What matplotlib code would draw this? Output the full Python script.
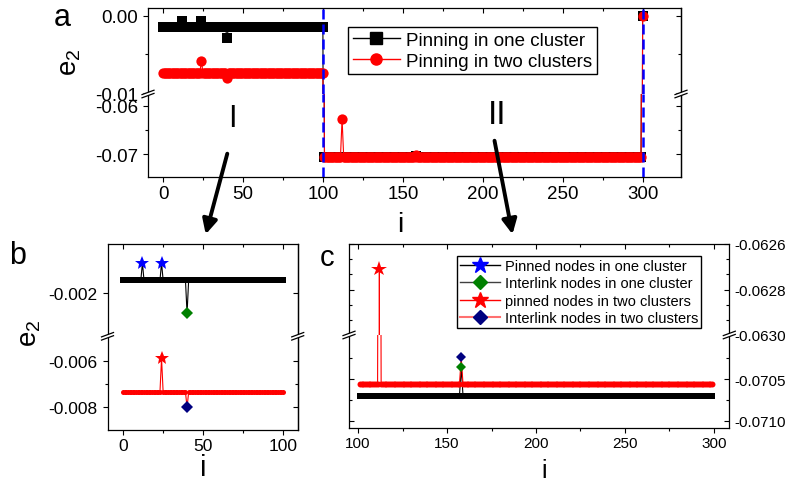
import numpy as np
import matplotlib
matplotlib.use('Agg')
import matplotlib.pyplot as plt
from matplotlib.lines import Line2D
from matplotlib.patches import Polygon
from matplotlib.ticker import FormatStrFormatter, MultipleLocator, FixedLocator, AutoMinorLocator

plt.rcParams['font.family'] = ['Liberation Sans', 'DejaVu Sans']
plt.rcParams['axes.unicode_minus'] = False
plt.rcParams['mathtext.default'] = 'regular'

W, H = 791, 485

# node index and piecewise e2 levels: (first i, last i, e2)
i_nodes = np.arange(0, 301)
one_levels = [(0, 100, -0.00144), (101, 299, -0.0707), (300, 300, 0.0)]
two_levels = [(0, 100, -0.00735), (101, 299, -0.07056), (300, 300, 0.0)]

# special nodes: pinned (stars) and interlink (diamonds)
one_pinned_i = [12, 24]
one_pinned_e2 = [-0.0007, -0.0007]
one_link_i = [40, 158]
one_link_e2 = [-0.00286, -0.07036]
two_pinned_i = [24, 112]
two_pinned_e2 = [-0.0059, -0.06271]
two_link_i = [40, 158]
two_link_e2 = [-0.0080, -0.07024]


def build(levels, idx_lists, val_lists):
    e2 = np.zeros(len(i_nodes))
    for lo, hi, v in levels:
        e2[lo:hi + 1] = v
    for idx, vals in zip(idx_lists, val_lists):
        for k, v in zip(idx, vals):
            e2[k] = v
    return e2


one_cluster = build(one_levels, [one_pinned_i, one_link_i], [one_pinned_e2, one_link_e2])
two_cluster = build(two_levels, [two_pinned_i, two_link_i], [two_pinned_e2, two_link_e2])

fig = plt.figure(figsize=(W / 100, H / 100), dpi=100)


def box(l, t, r, b):
    return [l / W, 1 - b / H, (r - l) / W, (b - t) / H]


def make_pair(l, t, brk, r, b, tsize, left_dir='out'):
    top = fig.add_axes(box(l, t, r, brk))
    bot = fig.add_axes(box(l, brk, r, b))
    top.spines['bottom'].set_visible(False)
    bot.spines['top'].set_visible(False)
    for ax in (top, bot):
        for sp in ax.spines.values():
            sp.set_linewidth(0.9)
        ax.tick_params(which='major', length=3.5, width=0.8, labelsize=tsize)
        ax.tick_params(which='minor', length=2.2, width=0.8)
        ax.tick_params(axis='y', which='both', direction=left_dir)
    top.tick_params(axis='x', which='both', bottom=False, labelbottom=False, top=True, direction='in')
    bot.tick_params(axis='x', which='both', top=False, direction='out', pad=2)
    return top, bot


def right_ticks(ax, major, minor):
    sec = ax.secondary_yaxis('right')
    sec.yaxis.set_major_locator(FixedLocator(major))
    sec.yaxis.set_minor_locator(FixedLocator(minor))
    sec.tick_params(which='both', direction='in', labelright=False, width=0.8)
    sec.tick_params(which='major', length=3.5)
    sec.tick_params(which='minor', length=2.2)
    sec.spines['right'].set_linewidth(0.9)


def break_mark(x, y):
    dx, dy, g = 6, 2.2, 1.6
    pts = [(x - dx, y + dy - g), (x + dx, y - dy - g), (x + dx, y - dy + g), (x - dx, y + dy + g)]
    fpts = [(px / W, 1 - py / H) for px, py in pts]
    fig.add_artist(Polygon(fpts, closed=True, facecolor='white', edgecolor='none',
                           transform=fig.transFigure, zorder=10))
    for s in (-g, g):
        fig.add_artist(Line2D([(x - dx) / W, (x + dx) / W],
                              [1 - (y + dy + s) / H, 1 - (y - dy + s) / H],
                              color='black', lw=0.9, transform=fig.transFigure, zorder=11))


def draw_plain(ax, lo, hi, ms):
    s = slice(lo, hi + 1)
    ax.plot(i_nodes[s], one_cluster[s], color='black', lw=0.8, marker='s', ms=ms, mew=0)
    ax.plot(i_nodes[s], two_cluster[s], color='red', lw=0.8, marker='o', ms=ms, mew=0)


def draw_special(ax, lo, hi, ms_sq, ms_ci, ms_star, ms_dia):
    s = slice(lo, hi + 1)
    x = i_nodes[s]
    special_one = set(one_pinned_i + one_link_i)
    special_two = set(two_pinned_i + two_link_i)
    keep_one = np.array([k not in special_one for k in x])
    keep_two = np.array([k not in special_two for k in x])
    ax.plot(x, one_cluster[s], color='black', lw=0.8, zorder=2)
    ax.plot(x[keep_one], one_cluster[s][keep_one], 's', color='black', ms=ms_sq, mew=0, zorder=2)
    ax.plot(x, two_cluster[s], color='red', lw=0.8, zorder=3)
    ax.plot(x[keep_two], two_cluster[s][keep_two], 'o', color='red', ms=ms_ci, mew=0, zorder=3)
    ax.plot(one_pinned_i, one_pinned_e2, '*', color='blue', ms=ms_star, mew=0, zorder=4)
    ax.plot(one_link_i, one_link_e2, 'D', color='green', ms=ms_dia, mew=0, zorder=4)
    ax.plot(two_pinned_i, two_pinned_e2, '*', color='red', ms=ms_star, mew=0, zorder=4)
    ax.plot(two_link_i, two_link_e2, 'D', color='navy', ms=ms_dia, mew=0, zorder=5)


# ---------------- panel a ----------------
a_top, a_bot = make_pair(148, 9, 95, 681, 178, 13.5)
for ax in (a_top, a_bot):
    draw_plain(ax, 0, 300, 7.4)
    ax.axvline(100, color='blue', lw=1.8, ls=(0, (4, 2)), zorder=6)
    ax.axvline(300, color='blue', lw=1.8, ls=(0, (4, 2)), zorder=6)
    ax.set_xlim(-9.4, 324)
    ax.xaxis.set_major_locator(MultipleLocator(50))
    ax.xaxis.set_minor_locator(MultipleLocator(25))
a_top.set_ylim(-0.01009, 0.00099)
a_top.yaxis.set_major_locator(FixedLocator([-0.01, 0.0]))
a_top.yaxis.set_minor_locator(FixedLocator([-0.005]))
a_top.yaxis.set_major_formatter(FormatStrFormatter('%.2f'))
right_ticks(a_top, [-0.01, 0.0], [-0.005])
a_bot.set_ylim(-0.07476, -0.05758)
a_bot.yaxis.set_major_locator(FixedLocator([-0.07, -0.06]))
a_bot.yaxis.set_minor_locator(FixedLocator([-0.065]))
a_bot.yaxis.set_major_formatter(FormatStrFormatter('%.2f'))
right_ticks(a_bot, [-0.07, -0.06], [-0.065])

leg_a = [Line2D([], [], color='black', lw=1, marker='s', ms=8),
         Line2D([], [], color='red', lw=1, marker='o', ms=8)]
fig.legend(leg_a, ['Pinning in one cluster', 'Pinning in two clusters'],
           loc='upper left', bbox_to_anchor=(348 / W, 1 - 28 / H), borderaxespad=0,
           fontsize=13.5, frameon=True, fancybox=False, edgecolor='black', framealpha=1,
           handlelength=2.5, handletextpad=0.35, borderpad=0.25, labelspacing=0.2, numpoints=1)

# ---------------- panel b ----------------
b_top, b_bot = make_pair(107.5, 245, 337.3, 297.7, 431, 12.5)
for ax in (b_top, b_bot):
    draw_special(ax, 0, 100, 4.0, 3.6, 10, 6.2)
    ax.set_xlim(-9.9, 109.4)
    ax.xaxis.set_major_locator(MultipleLocator(50))
    ax.xaxis.set_minor_locator(MultipleLocator(25))
b_top.set_ylim(-0.00384, 0.000113)
b_top.yaxis.set_major_locator(FixedLocator([-0.002]))
b_top.yaxis.set_minor_locator(FixedLocator([]))
b_top.yaxis.set_major_formatter(FormatStrFormatter('%.3f'))
right_ticks(b_top, [-0.002], [])
b_bot.set_ylim(-0.00897, -0.004954)
b_bot.yaxis.set_major_locator(FixedLocator([-0.008, -0.006]))
b_bot.yaxis.set_minor_locator(FixedLocator([-0.007]))
b_bot.yaxis.set_major_formatter(FormatStrFormatter('%.3f'))
right_ticks(b_bot, [-0.008, -0.006], [-0.007])

# ---------------- panel c ----------------
c_top, c_bot = make_pair(349, 245, 336, 729.3, 429.3, 11, left_dir='in')
for ax in (c_top, c_bot):
    draw_special(ax, 101, 299, 4.8, 4.3, 11.5, 5.4)
    ax.set_xlim(94.94, 308.6)
    ax.xaxis.set_major_locator(MultipleLocator(50))
    ax.xaxis.set_minor_locator(MultipleLocator(25))
    ax.tick_params(axis='y', which='both', left=True, right=True, labelleft=False, labelright=True)
c_top.set_ylim(-0.0630, -0.0626)
c_top.yaxis.set_major_locator(FixedLocator([-0.0630, -0.0628, -0.0626]))
c_top.yaxis.set_minor_locator(AutoMinorLocator(3))
c_top.yaxis.set_major_formatter(FormatStrFormatter('%.4f'))
c_bot.set_ylim(-0.07109, -0.06997)
c_bot.yaxis.set_major_locator(FixedLocator([-0.0710, -0.0705]))
c_bot.yaxis.set_minor_locator(FixedLocator([-0.07075, -0.07025]))
c_bot.yaxis.set_major_formatter(FormatStrFormatter('%.4f'))

leg_c = [Line2D([], [], color='black', lw=1, marker='*', ms=12, mfc='blue', mec='blue'),
         Line2D([], [], color='#404040', lw=1, marker='D', ms=7, mfc='green', mec='green'),
         Line2D([], [], color='red', lw=1, marker='*', ms=12, mfc='red', mec='red'),
         Line2D([], [], color='#ff7070', lw=1.5, marker='D', ms=7, mfc='navy', mec='navy')]
fig.legend(leg_c, ['Pinned nodes in one cluster', 'Interlink nodes in one cluster',
                   'pinned nodes in two clusters', 'Interlink nodes in two clusters'],
           loc='upper left', bbox_to_anchor=(456.7 / W, 1 - 257.3 / H), borderaxespad=0,
           fontsize=10.5, frameon=True, fancybox=False, edgecolor='black', framealpha=1,
           handlelength=2.8, handletextpad=0.3, borderpad=0.2, labelspacing=0.22, numpoints=1)

# axis break marks
for x, y in [(148, 95), (681, 95), (107.5, 337.3), (297.7, 337.3), (349, 336), (729.3, 336)]:
    break_mark(x, y)

# labels
def ftext(x, y, s, **kw):
    fig.text(x / W, 1 - y / H, s, ha='center', va='center', **kw)

ftext(62, 18, 'a', fontsize=22)
ftext(17.5, 256, 'b', fontsize=22)
ftext(327, 257.5, 'c', fontsize=21)
ftext(70, 62, 'e$_2$', fontsize=20, rotation=90)
ftext(30, 333, 'e$_2$', fontsize=20, rotation=90)
ftext(400, 225, 'i', fontsize=20)
ftext(203, 468, 'i', fontsize=21)
ftext(544, 471, 'i', fontsize=18)
ftext(232, 119, 'I', fontsize=22)
ftext(497, 115, 'II', fontsize=24)

# arrows from panel a to the zoomed panels
for (x0, y0), (x1, y1) in [((228, 152), (205, 238)), ((494, 139), (513, 238))]:
    fig.add_artist(matplotlib.patches.FancyArrowPatch(
        (x0 / W, 1 - y0 / H), (x1 / W, 1 - y1 / H), transform=fig.transFigure,
        arrowstyle='-|>', mutation_scale=22, lw=2.8, color='black'))

fig.savefig('out.png', dpi=100)
